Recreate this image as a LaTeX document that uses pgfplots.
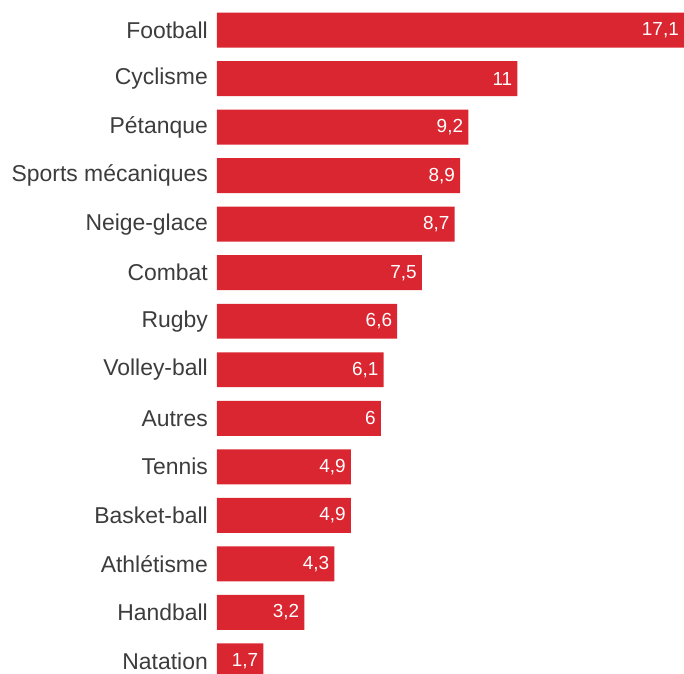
\documentclass[border=0pt]{standalone}
\usepackage{pgfplots}
\pgfplotsset{compat=1.18}
\usepackage{pgfplotstable}
\usepackage{fontspec}
\setmainfont{Liberation Sans}
\definecolor{barred}{RGB}{218,38,48}
\definecolor{labgray}{RGB}{60,60,60}
\pgfplotstableread[col sep=comma]{
y,v,lab
0,17.1,{17,1}
1,11,{11}
2,9.2,{9,2}
3,8.9,{8,9}
4,8.7,{8,7}
5,7.5,{7,5}
6,6.6,{6,6}
7,6.1,{6,1}
8,6,{6}
9,4.9,{4,9}
10,4.9,{4,9}
11,4.3,{4,3}
12,3.2,{3,2}
13,1.7,{1,7}
}\datatable
\begin{document}
\begin{tikzpicture}
\begin{axis}[
  scale only axis,
  width=467bp, height=674bp,
  xmin=0, xmax=17.1,
  ymin=-0.62, ymax=13.27,
  y dir=reverse,
  hide x axis,
  axis y line*=left,
  y axis line style={draw=none},
  major tick length=0pt,
  ytick={0,...,13},
  yticklabels={Football,Cyclisme,Pétanque,Sports mécaniques,Neige-glace,Combat,Rugby,Volley-ball,Autres,Tennis,Basket-ball,Athlétisme,Handball,Natation},
  yticklabel style={font=\fontsize{23}{26}\selectfont, text=labgray, inner sep=0pt, xshift=-9bp},
  xbar, bar width=0.72,
  nodes near coords={\pgfplotspointmeta},
  point meta=explicit symbolic,
  every node near coord/.append style={anchor=east, font=\fontsize{19}{21}\selectfont, text=white, xshift=-5bp, inner sep=0pt},
]
\addplot[fill=barred, draw=none] table[x=v, y=y, meta=lab] {\datatable};
\end{axis}
\path (current axis.south west) ++(-217bp,0) rectangle (current axis.north east);
\end{tikzpicture}
\end{document}
